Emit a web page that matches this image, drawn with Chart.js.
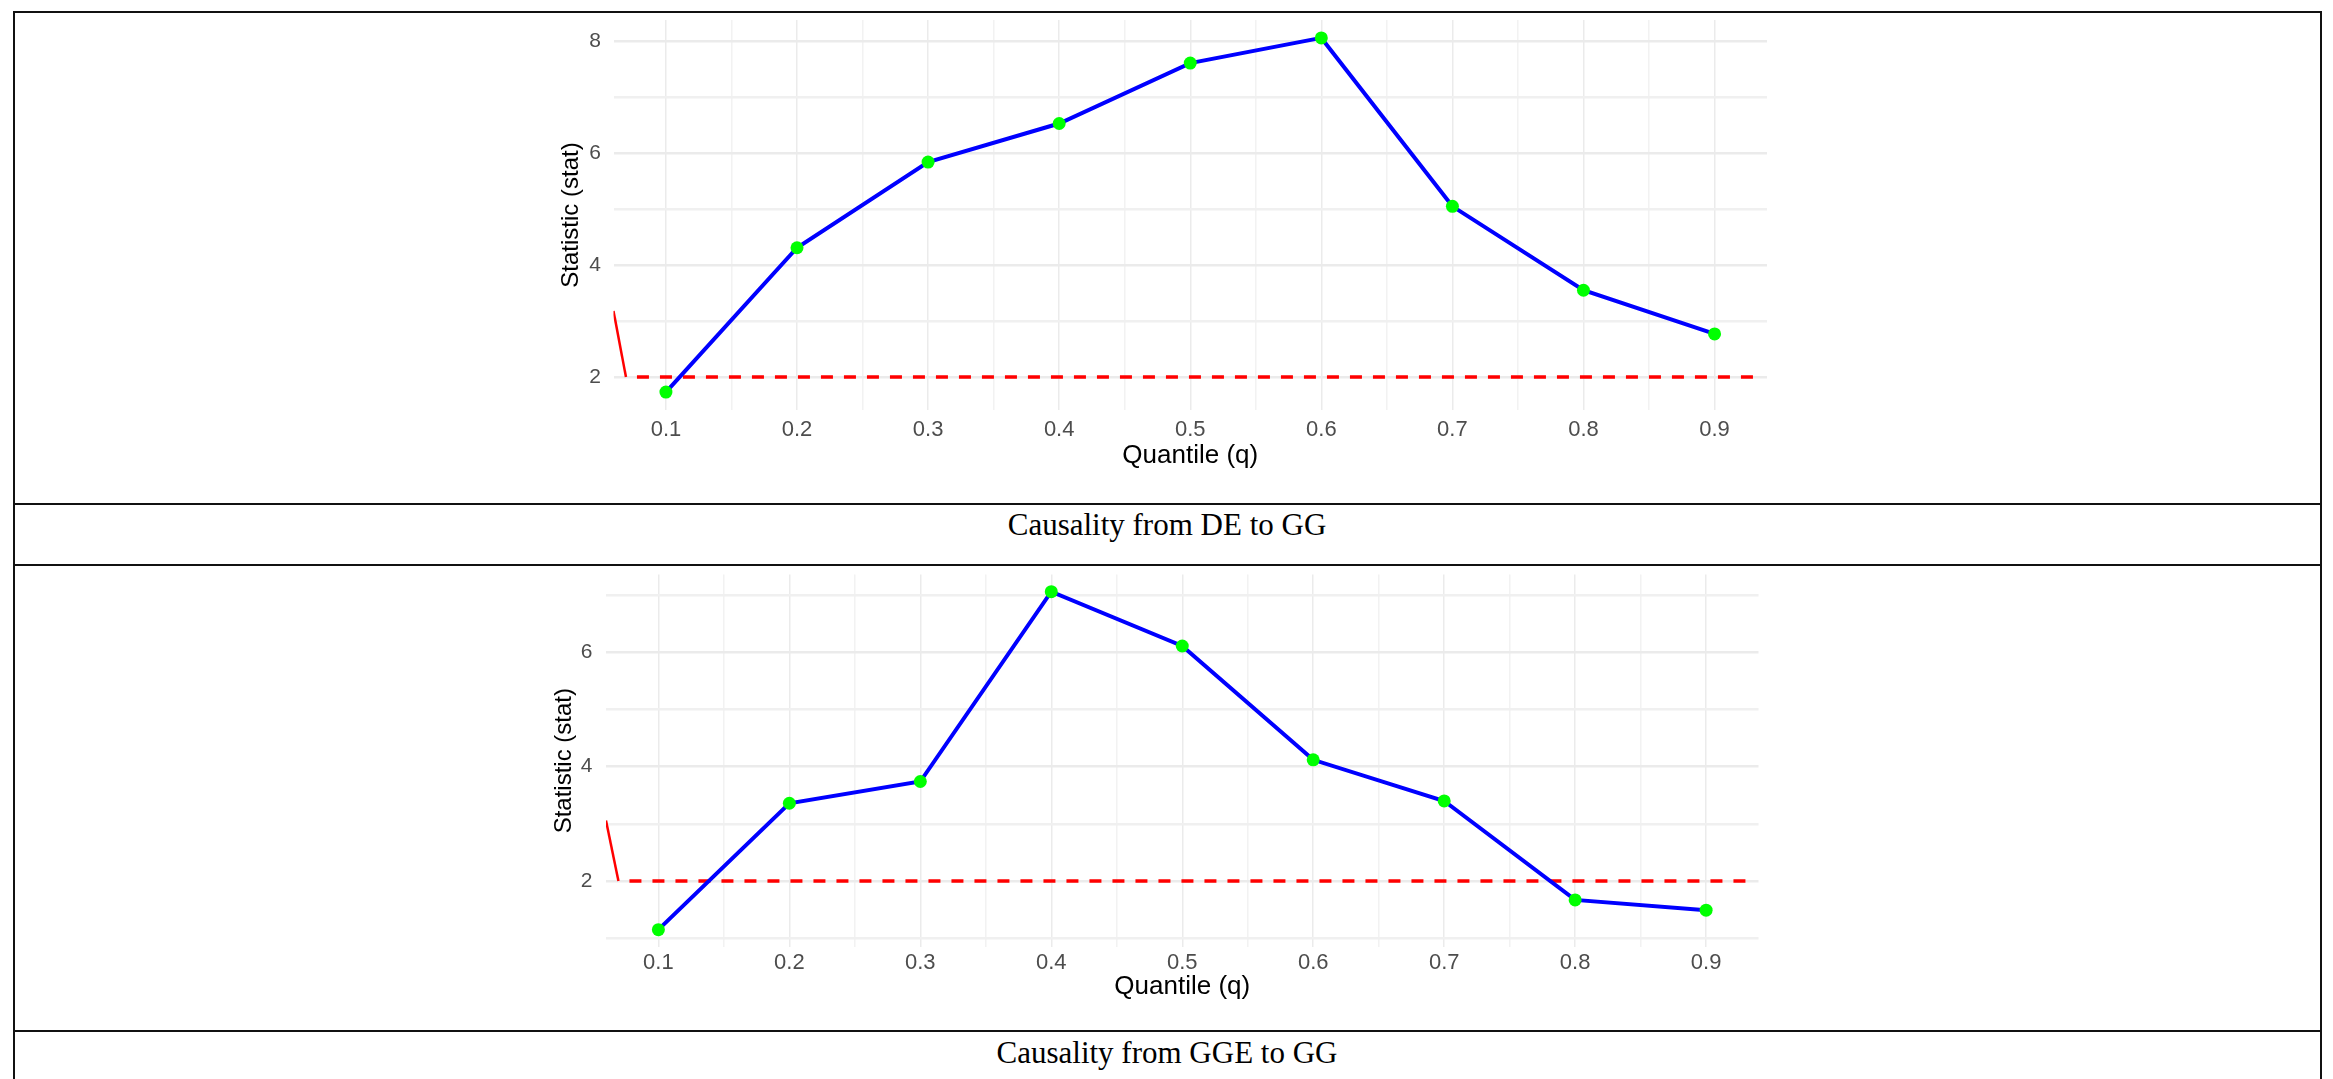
<!DOCTYPE html>
<html>
<head>
<meta charset="utf-8">
<script src="https://cdn.jsdelivr.net/npm/chart.js@4.4.0/dist/chart.umd.min.js"></script>
<style>
html, body { margin: 0; padding: 0; background: #fff; width: 2333px; height: 1079px; overflow: hidden; }
.box { position: absolute; border-style: solid; border-color: #111; border-width: 2px 2.5px; box-sizing: border-box; }
.hline { position: absolute; left: 12.5px; width: 2309px; height: 2px; background: #111; }
.cap { position: absolute; left: 12.5px; width: 2309px; text-align: center;
       font-family: "Liberation Serif", "Times New Roman", serif; font-size: 31px; line-height: 31px; color: #000; }
canvas { position: absolute; }
</style>
</head>
<body>
<div class="box" style="left:12.5px;top:11px;width:2309px;height:1100px;"></div>
<div class="hline" style="top:502.7px"></div>
<div class="hline" style="top:564.3px"></div>
<div class="hline" style="top:1030px"></div>
<div class="cap" style="top:509px">Causality from DE to GG</div>
<div class="cap" style="top:1037px">Causality from GGE to GG</div>
<canvas id="c1" width="1320" height="480" style="left:500px;top:12px"></canvas>
<canvas id="c2" width="1320" height="455" style="left:500px;top:568px"></canvas>
<script>
// data
const quantiles = [0.1, 0.2, 0.3, 0.4, 0.5, 0.6, 0.7, 0.8, 0.9];
const statDE  = [1.73, 4.31, 5.84, 6.53, 7.61, 8.06, 5.05, 3.55, 2.77];
const statGGE = [1.15, 3.36, 3.74, 7.06, 6.11, 4.12, 3.40, 1.67, 1.49];
const threshold = 2;
const thresholdSpan = [0.0695, 0.934];
const slantDE  = [[0.06, 3.18], [0.0695, 2]];
const slantGGE = [[0.06, 3.06], [0.0695, 2]];
const yLabelsDE  = [2, 4, 6, 8];
const yMinorDE   = [3, 5, 7];
const yLabelsGGE = [2, 4, 6];
const yMinorGGE  = [1, 3, 5, 7];

const yTickFont = { family: 'Liberation Sans', size: 21 };
const xTickFont = { family: 'Liberation Sans', size: 22 };
const yTitleFont = { family: 'Liberation Sans', size: 24 };
const xTitleFont = { family: 'Liberation Sans', size: 26 };

function xTicks() {
    var t = quantiles.map(v => ({ value: v, major: true }));
    for (var i = 0; i < quantiles.length - 1; i++) {
        t.push({ value: (quantiles[i] + quantiles[i + 1]) / 2, major: false });
    }
    return t.sort((a, b) => a.value - b.value);
}

function makeChart(id, values, slant, yMin, yMax, yLabels, yMinor, lay) {
    var ctx = document.getElementById(id).getContext('2d');
    return new Chart(ctx, {
        type: 'line',
        data: {
            datasets: [{
                data: quantiles.map((q, i) => ({ x: q, y: values[i] })),
                borderColor: '#0000ff',
                borderWidth: 4,
                pointBackgroundColor: '#00ff00',
                pointBorderWidth: 0,
                pointRadius: 6.5,
                order: 0
            }, {
                data: thresholdSpan.map(x => ({ x: x, y: threshold })),
                borderColor: '#ff0000',
                borderWidth: 3.5,
                borderDash: [12, 11],
                borderDashOffset: 12,
                pointRadius: 0,
                order: 1
            }, {
                data: slant.map(p => ({ x: p[0], y: p[1] })),
                borderColor: '#ff0000',
                borderWidth: 2.5,
                pointRadius: 0,
                order: 1
            }]
        },
        options: {
            responsive: false,
            animation: false,
            layout: { padding: { top: lay.top, right: lay.right, left: 0, bottom: 0 } },
            plugins: { legend: { display: false }, tooltip: { enabled: false } },
            scales: {
                x: {
                    type: 'linear',
                    min: 0.06,
                    max: 0.94,
                    afterBuildTicks: s => { s.ticks = xTicks(); },
                    afterFit: s => { s.height = lay.xh; s.paddingLeft = 0; s.paddingRight = 0; },
                    border: { display: false },
                    grid: {
                        drawTicks: false,
                        color: c => c.tick && c.tick.major ? '#ebebeb' : '#f2f2f2',
                        lineWidth: 1.5
                    },
                    ticks: {
                        autoSkip: false,
                        maxRotation: 0,
                        padding: lay.xpad,
                        color: '#4d4d4d',
                        font: xTickFont,
                        callback: (v, i, t) => t[i].major ? v.toFixed(1) : ''
                    },
                    title: {
                        display: true,
                        text: 'Quantile (q)',
                        color: '#000',
                        font: xTitleFont,
                        padding: { top: 0, bottom: lay.xtp }
                    }
                },
                y: {
                    min: yMin,
                    max: yMax,
                    afterBuildTicks: s => {
                        s.ticks = yLabels.map(v => ({ value: v, major: true }))
                            .concat(yMinor.map(v => ({ value: v, major: false })))
                            .sort((a, b) => a.value - b.value);
                    },
                    afterFit: s => { s.width = lay.yw; s.paddingTop = 0; s.paddingBottom = 0; },
                    border: { display: false },
                    grid: {
                        drawTicks: false,
                        color: c => c.tick && c.tick.major ? '#ebebeb' : '#f0f0f0',
                        lineWidth: 2.5
                    },
                    ticks: {
                        autoSkip: false,
                        padding: lay.ypad,
                        color: '#4d4d4d',
                        font: yTickFont,
                        callback: (v, i, t) => t[i].major ? String(v) : ''
                    },
                    title: {
                        display: true,
                        text: 'Statistic (stat)',
                        color: '#000',
                        font: yTitleFont,
                        padding: { top: lay.ytp, bottom: 0 }
                    }
                }
            }
        }
    });
}

makeChart('c1', statDE, slantDE, 1.41, 8.38, yLabelsDE, yMinorDE,
    { top: 8, right: 53, xh: 82, yw: 113.5, xpad: 6.8, xtp: 20.4, ypad: 12.5, ytp: 56.6 });
makeChart('c2', statGGE, slantGGE, 0.85, 7.36, yLabelsGGE, yMinorGGE,
    { top: 4, right: 61.5, xh: 76.2, yw: 106, xpad: 3, xtp: 20.7, ypad: 13.5, ytp: 49.6 });
</script>
</body>
</html>
